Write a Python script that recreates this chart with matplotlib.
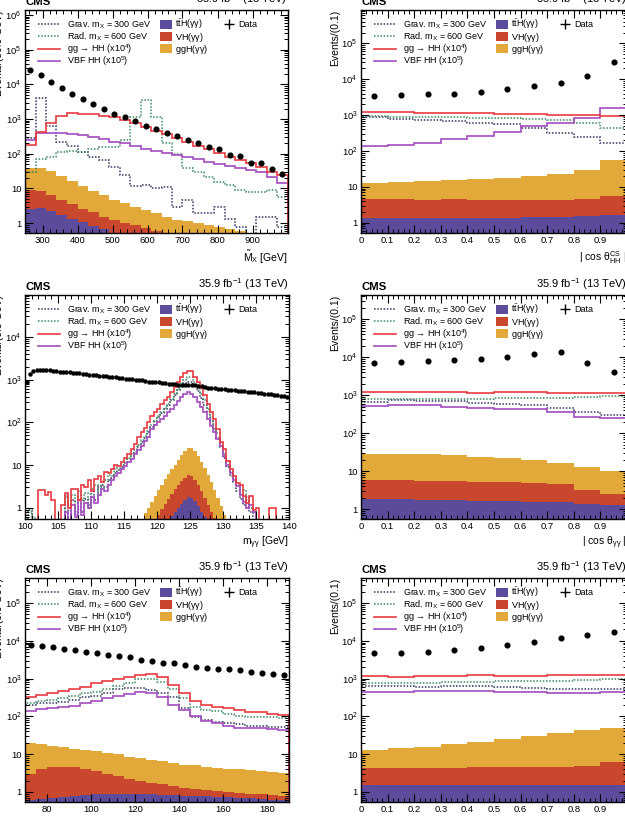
import numpy as np
import matplotlib
matplotlib.use("Agg")
import matplotlib.pyplot as plt
from matplotlib.patches import Rectangle
from matplotlib.ticker import LogLocator, NullFormatter, FuncFormatter, MultipleLocator

plt.rcParams['font.family'] = ['Liberation Sans', 'DejaVu Sans']
plt.rcParams['mathtext.fontset'] = 'custom'
plt.rcParams['mathtext.rm'] = 'Liberation Sans'
plt.rcParams['mathtext.it'] = 'Liberation Sans:italic'
plt.rcParams['mathtext.bf'] = 'Liberation Sans:bold'

# ---- M~X panel (30 GeV bins)
mx_edges = np.arange(250, 1001, 30)
mx_data = [25700, 18600, 11400, 7650, 5370, 3780, 2760, 1980, 1450, 1140, 860, 640, 505,
           386, 316, 243, 203, 158, 133, 93, 84, 54, 55, 36, 27]
mx_grav = [280, 4000, 630, 221, 166, 114, 81, 66, 42, 24, 11.7, 12.5, 10, 10.7, 2.9, 4.6,
           1.9, 1.9, 2.9, 1.36, 0.8, 0.3, 1.5, 1.5, 0.8]
mx_rad = [30, 70, 81, 110, 122, 115, 140, 155, 160, 250, 1150, 3600, 1150, 200, 100, 38,
          30, 22, 15.5, 12.5, 9, 8, 8, 9, 5.7]
mx_gg = [185, 420, 750, 1230, 1500, 1450, 1365, 1230, 1125, 935, 780, 600, 460, 369, 277,
         221, 166, 133, 102, 81, 66, 53, 42, 30, 24]
mx_vbf = [246, 400, 400, 390, 369, 350, 310, 260, 221, 200, 166, 142, 122, 107, 92, 81, 70,
          59, 50, 44, 38, 34, 30, 22, 14.5]
mx_tth = [2.6, 2.7, 2.2, 1.7, 1.3, 1.05, 0.84, 0.67, 0.52, 0.42, 0.34, 0.27, 0.22, 0.18,
          0.15, 0.12, 0.1, 0.08, 0.07, 0.06, 0.05, 0.04, 0.035, 0.03, 0.025]
mx_vh = [6.4, 6.0, 4.5, 3.1, 2.3, 1.55, 1.26, 0.83, 0.68, 0.58, 0.52, 0.45, 0.38, 0.32,
         0.27, 0.24, 0.2, 0.17, 0.14, 0.12, 0.1, 0.09, 0.075, 0.06, 0.055]
mx_ggh = [31, 29.3, 25.3, 18.2, 12.9, 9.4, 6.4, 5.1, 3.6, 2.8, 2.09, 1.65, 1.3, 1.02, 0.85,
          0.78, 0.7, 0.61, 0.55, 0.51, 0.46, 0.37, 0.34, 0.31, 0.27]

# ---- |cos theta CS| panel
cos_edges = np.linspace(0, 1, 11)
cs_data = [3450, 3700, 3850, 4000, 4470, 5200, 6300, 8100, 12200, 30000]
cs_grav = [860, 790, 725, 680, 590, 560, 425, 320, 250, 170]
cs_rad = [930, 900, 870, 860, 850, 820, 770, 740, 620, 450]
cs_gg = [1200, 1200, 1180, 1160, 1130, 1100, 1070, 1030, 1000, 950]
cs_vbf = [137, 152, 170, 210, 260, 343, 490, 610, 810, 1630]
cs_tth = [1.35, 1.35, 1.35, 1.37, 1.4, 1.4, 1.43, 1.45, 1.5, 1.6]
cs_vh = [3.4, 3.2, 3.1, 3.1, 3.0, 3.0, 3.0, 3.0, 3.1, 3.9]
cs_ggh = [8.25, 9.3, 10.3, 11.0, 12.1, 13.4, 15.9, 19.2, 24.7, 50.5]

# ---- m_gg panel (0.5 GeV bins)
mgg_edges = np.arange(100, 140.01, 0.5)
mgg_data = [900, 1350, 1600, 1700, 1720, 1700, 1680, 1640, 1600, 1570,
            1540, 1520, 1490, 1470, 1450, 1430, 1400, 1380, 1330, 1310,
            1290, 1270, 1240, 1220, 1190, 1170, 1140, 1120, 1100, 1080,
            1050, 1030, 1010, 1000, 980, 960, 930, 900, 900, 880,
            860, 850, 830, 810, 790, 770, 760, 750, 740, 750,
            740, 730, 700, 690, 670, 650, 640, 625, 610, 600,
            590, 580, 570, 560, 550, 540, 530, 520, 510, 500,
            490, 480, 460, 470, 450, 440, 430, 420, 410, 400]
mgg_gg = [0.3, 0.3, 0.3, 0.3, 2.6, 2.6, 2.0, 2.4, 1.5, 0.3,
          0.3, 1.2, 2.2, 1.0, 2.8, 2.8, 1.5, 3.5, 3.0, 4.5,
          2.5, 4.8, 5.5, 4.0, 7.0, 6.5, 8.0, 10, 9.5, 12,
          15, 18, 24, 32, 45, 58, 75, 100, 140, 174,
          209, 275, 326, 390, 515, 680, 890, 1170, 1390, 1620,
          1550, 1170, 890, 620, 430, 275, 174, 121, 70, 34,
          24, 12.6, 8, 5.6, 3.9, 3.5, 1.9, 1.3, 1.9, 0.9,
          1.0, 0.3, 0.3, 0.3, 1.0, 1.0, 0.3, 0.3, 0.3, 0.3]
mgg_rad = [0.3, 0.8, 0.6, 0.3, 0.3, 0.3, 0.3, 0.3, 0.3, 0.3,
           0.3, 0.3, 1.8, 1.0, 2.0, 0.8, 2.5, 1.5, 2.2, 1.2,
           2.8, 3.5, 2.0, 4.0, 4.5, 6.0, 5.5, 8.0, 8.5, 10,
           12, 15, 18, 23, 30, 38, 48, 62, 85, 110,
           140, 175, 215, 270, 350, 460, 600, 780, 980, 1170,
           1120, 900, 680, 470, 330, 210, 135, 90, 55, 35,
           18, 12, 7, 5, 3.5, 2.2, 2.6, 1.5, 1.0, 0.8,
           0.3, 0.3, 0.3, 0.3, 0.3, 0.3, 0.3, 0.3, 0.3, 0.3]
mgg_grav = [0.3, 0.9, 0.3, 0.3, 0.3, 0.3, 0.3, 0.3, 0.3, 0.3,
            0.3, 0.3, 2.0, 0.3, 1.5, 0.7, 1.5, 0.8, 1.6, 1.0,
            2.5, 1.5, 3.0, 3.5, 3.0, 4.5, 5.0, 6.5, 7.5, 9.0,
            11, 14, 16, 20, 26, 34, 44, 58, 80, 105,
            130, 165, 205, 255, 330, 430, 560, 700, 830, 900,
            860, 700, 530, 380, 260, 170, 110, 70, 42, 26,
            15, 9, 5.5, 4.0, 2.5, 1.6, 1.2, 1.8, 0.8, 0.3,
            0.3, 0.3, 0.3, 0.3, 0.3, 0.3, 0.3, 0.3, 0.3, 0.3]
mgg_vbf = [0.3, 0.3, 0.3, 0.3, 0.3, 0.3, 0.3, 0.3, 0.3, 0.3,
           0.3, 0.3, 0.8, 0.3, 1.2, 0.6, 1.5, 0.7, 1.3, 1.0,
           1.8, 1.3, 2.0, 2.8, 2.5, 3.5, 4.5, 5.5, 6.5, 8.0,
           9.5, 12, 14, 18, 22, 28, 36, 46, 70, 85,
           100, 120, 140, 170, 209, 260, 320, 400, 470, 515,
           470, 390, 300, 230, 174, 120, 84, 60, 41, 28,
           16.5, 10, 6.7, 4.5, 3.2, 2.0, 1.4, 1.0, 1.2, 0.8,
           0.3, 0.3, 0.3, 0.3, 0.3, 0.3, 0.3, 0.3, 0.3, 0.3]
mgg_tth = [0] * 33 + [0.02, 0.03, 0.05, 0.07, 0.1, 0.12, 0.15, 0.2, 0.3, 0.42, 0.55, 0.65,
                      0.8, 1.0, 1.25, 1.5, 1.8, 1.75, 1.45, 1.1, 0.8, 0.6, 0.42, 0.3, 0.2,
                      0.15, 0.1, 0.07, 0.04] + [0] * 18
mgg_vh = [0] * 33 + [0.05, 0.08, 0.12, 0.18, 0.25, 0.33, 0.4, 0.5, 0.65, 0.83, 1.05, 1.45,
                     1.9, 2.4, 2.95, 3.5, 4.0, 3.85, 3.15, 2.4, 1.7, 1.1, 0.73, 0.5, 0.37,
                     0.3, 0.2, 0.13, 0.08] + [0] * 18
mgg_ggh = [0] * 33 + [0.2, 0.3, 0.38, 0.5, 0.65, 0.95, 1.35, 1.9, 2.55, 3.45, 4.6, 5.9, 7.6,
                      10.1, 12.8, 16, 19.2, 19.4, 16.4, 12.5, 9.5, 6.8, 4.85, 3.2, 2.0,
                      1.25, 0.8, 0.5, 0.38, 0.25] + [0] * 17

# ---- |cos theta gg| panel
cgg_data = [7100, 7400, 7860, 8330, 8870, 9800, 11800, 13800, 6970, 4040]
cgg_grav = [670, 745, 710, 700, 610, 575, 540, 450, 365, 300]
cgg_rad = [780, 780, 775, 775, 790, 850, 850, 840, 910, 940]
cgg_gg = [1200, 1200, 1180, 1180, 1130, 1200, 1200, 1150, 1130, 1170]
cgg_vbf = [515, 550, 550, 495, 450, 425, 425, 365, 270, 245]
cgg_tth = [1.83, 1.83, 1.76, 1.76, 1.68, 1.63, 1.58, 1.52, 1.38, 1.3]
cgg_vh = [4.07, 4.07, 3.84, 3.74, 3.62, 3.47, 3.22, 2.98, 1.82, 1.3]
cgg_ggh = [22.5, 22.5, 22.3, 21.2, 18.7, 16.8, 14.9, 11.6, 10.0, 7.7]

# ---- M_jj panel (5 GeV bins)
mjj_edges = np.arange(70, 190.1, 5)
mjj_data = [7740, 7420, 6860, 6060, 5710, 4970, 4670, 4210, 3960, 3660, 3100, 2870, 2640,
            2540, 2290, 2070, 1910, 1760, 1760, 1690, 1500, 1380, 1350, 1245]
mjj_grav = [200, 222, 230, 245, 273, 320, 340, 420, 521, 550, 550, 500, 408, 320, 164, 95,
            80, 72, 68, 63, 56, 55, 53, 52]
mjj_rad = [230, 256, 273, 300, 340, 408, 450, 520, 640, 780, 955, 955, 820, 520, 300, 181,
           150, 135, 118, 105, 97, 95, 94, 90]
mjj_gg = [320, 368, 408, 470, 521, 611, 750, 881, 955, 1120, 1245, 1290, 1120, 680, 408, 256,
          200, 181, 164, 148, 133, 133, 116, 109]
mjj_vbf = [141, 155, 164, 181, 188, 222, 256, 300, 355, 390, 435, 408, 331, 200, 148, 102, 76,
           66, 56, 48, 50, 48, 45.5, 44]
mjj_tth = [0.6, 0.65, 0.7, 0.75, 0.8, 0.85, 0.88, 0.9, 0.9, 0.9, 0.88, 0.87, 0.85, 0.83, 0.8,
           0.78, 0.76, 0.75, 0.72, 0.7, 0.68, 0.65, 0.62, 0.6]
mjj_vh = [2.4, 3.35, 3.8, 3.95, 3.7, 3.25, 2.72, 2.1, 1.7, 1.3, 1.07, 0.88, 0.75, 0.62, 0.5,
          0.44, 0.36, 0.3, 0.26, 0.24, 0.22, 0.21, 0.21, 0.2]
mjj_ggh = [16.5, 14.6, 12.0, 10.8, 9.5, 8.9, 8.4, 7.6, 7.2, 6.4, 6.05, 5.25, 4.9, 4.3, 4.0,
           3.78, 3.58, 3.35, 3.12, 3.06, 2.9, 2.69, 2.47, 2.3]

# ---- |cos theta jj| panel
cjj_data = [4700, 4700, 5210, 5650, 6390, 7540, 9060, 11600, 14200, 17100]
cjj_grav = [630, 640, 600, 620, 640, 610, 550, 545, 515, 515]
cjj_rad = [745, 745, 780, 807, 807, 858, 858, 858, 890, 955]
cjj_gg = [1170, 1120, 1170, 1200, 1220, 1170, 1170, 1220, 1250, 1280]
cjj_vbf = [437, 437, 464, 464, 464, 450, 437, 403, 420, 437]
cjj_tth = [1.55, 1.55, 1.55, 1.55, 1.55, 1.55, 1.55, 1.55, 1.55, 1.5]
cjj_vh = [2.65, 2.65, 2.82, 2.82, 2.9, 2.9, 3.1, 3.1, 3.3, 4.8]
cjj_ggh = [8.7, 10.2, 11.5, 14.3, 17.1, 21.0, 25.9, 31.4, 39.2, 42.7]

# legend texts
line_labels = [r'Grav. m$_{\mathrm{X}}$ = 300 GeV', r'Rad. m$_{\mathrm{X}}$ = 600 GeV',
               r'gg → HH (x10$^{4}$)', r'VBF HH (x10$^{5}$)']
fill_labels = [r't$\bar{\mathrm{t}}$H($\mathrm{\gamma\gamma}$)', r'VH($\mathrm{\gamma\gamma}$)',
               r'ggH($\mathrm{\gamma\gamma}$)']

# colours
C_TTH = '#5b4b9a'
C_VH = '#c9482d'
C_GGH = '#e2a93a'
C_GG = '#e83b41'
C_VBF = '#a44bc0'
C_GRAV = '#2f3560'
C_RAD = '#3a8762'
DOT = (0, (1.0, 1.1))

W, H = 625, 819
fig = plt.figure(figsize=(W / 100, H / 100), dpi=100)


def log_label(v, pos):
    e = int(round(np.log10(v)))
    if e == 0:
        return '1'
    if e == 1:
        return '10'
    return r'$10^{%d}$' % e


def cos_label(v, pos):
    if abs(v) < 1e-9:
        return '0'
    if v > 0.95:
        return ''
    return '%.1f' % v


def mx_label(v, pos):
    if v > 950 or v < 280:
        return ''
    return '%d' % v


def draw_legend(ax, w, h):
    # ROOT-like legend, rows 12.4 px apart, three blocks side by side
    fs = 6.5
    tr = ax.transAxes
    styles = [(C_GRAV, DOT, 1.1), (C_RAD, DOT, 1.1), (C_GG, '-', 1.2), (C_VBF, '-', 1.2)]
    for i, (lab, (c, ls, lw)) in enumerate(zip(line_labels, styles)):
        yc = 1 - (14 + 12.4 * i) / h
        ax.plot([13 / w, 35 / w], [yc, yc], transform=tr, color=c, ls=ls, lw=lw, clip_on=False)
        ax.text(42 / w, yc - 3.2 / h, lab, transform=tr, fontsize=fs, va='baseline', ha='left')
    for i, (lab, c) in enumerate(zip(fill_labels, [C_TTH, C_VH, C_GGH])):
        yc = 1 - (14 + 12.4 * i) / h
        ax.add_patch(Rectangle((135 / w, yc - 4.5 / h), 12 / w, 9 / h, transform=tr,
                               facecolor=c, edgecolor='none', clip_on=False))
        ax.text(150 / w, yc - 3.2 / h, lab, transform=tr, fontsize=fs, va='baseline', ha='left')
    yc = 1 - 14 / h
    ax.plot([204 / w], [yc], transform=tr, marker='+', color='k', ms=7, mew=1.0, clip_on=False)
    ax.text(213 / w, yc - 3.2 / h, 'Data', transform=tr, fontsize=fs, va='baseline', ha='left')


def draw_panel(box, edges, data, grav, rad, gg, vbf, tth, vh, ggh,
               xlim, ylim, xlabel, ylabel, xmajor, xminor, msize=3.4, xfmt=None):
    x0, top, w, h = box
    ax = fig.add_axes([x0 / W, (H - top - h) / H, w / W, h / H])
    edges = np.asarray(edges, float)
    centers = 0.5 * (edges[1:] + edges[:-1])
    base = 1e-2

    # stacked single Higgs backgrounds
    c1 = np.maximum(np.asarray(tth, float), base)
    c2 = c1 + np.asarray(vh, float)
    c3 = c2 + np.asarray(ggh, float)
    ax.stairs(c1, edges, baseline=base, fill=True, color=C_TTH, lw=0)
    ax.stairs(c2, edges, baseline=c1, fill=True, color=C_VH, lw=0)
    ax.stairs(c3, edges, baseline=c2, fill=True, color=C_GGH, lw=0)

    # signals
    ax.stairs(grav, edges, baseline=base, color=C_GRAV, ls=DOT, lw=1.1)
    ax.stairs(rad, edges, baseline=base, color=C_RAD, ls=DOT, lw=1.1)
    ax.stairs(vbf, edges, baseline=base, color=C_VBF, lw=1.2)
    ax.stairs(gg, edges, baseline=base, color=C_GG, lw=1.2)

    ax.plot(centers, data, 'o', color='k', ms=msize, zorder=5)

    ax.set_yscale('log')
    ax.set_xlim(*xlim)
    ax.set_ylim(*ylim)
    ax.yaxis.set_major_locator(LogLocator(base=10, numticks=20))
    ax.yaxis.set_minor_locator(LogLocator(base=10, subs=np.arange(2, 10), numticks=20))
    ax.yaxis.set_minor_formatter(NullFormatter())
    ax.yaxis.set_major_formatter(FuncFormatter(log_label))
    ax.xaxis.set_major_locator(MultipleLocator(xmajor))
    ax.xaxis.set_minor_locator(MultipleLocator(xminor))
    if xfmt is not None:
        ax.xaxis.set_major_formatter(FuncFormatter(xfmt))

    ax.tick_params(which='both', direction='in', top=True, right=True, labelsize=6.8, pad=2.5)
    ax.tick_params(which='major', length=5.5, width=0.8)
    ax.tick_params(which='minor', length=2.8, width=0.7)
    for s in ax.spines.values():
        s.set_linewidth(1.0)

    ax.set_xlabel(xlabel, loc='right', fontsize=7.5)
    ax.xaxis.set_label_coords(1, -16 / h)
    ax.set_ylabel(ylabel, loc='top', fontsize=7.5)
    ax.yaxis.set_label_coords(-21 / w, 1)

    ax.text(0, 1 + 3 / h, 'CMS', transform=ax.transAxes, ha='left', va='bottom',
            fontsize=8.2, fontweight='bold')
    ax.text(1, 1 + 3 / h, r'35.9 fb$^{-1}$ (13 TeV)', transform=ax.transAxes,
            ha='right', va='bottom', fontsize=8)
    draw_legend(ax, w, h)
    return ax


draw_panel((25, 10, 262.5, 223), mx_edges, mx_data, mx_grav, mx_rad, mx_gg, mx_vbf,
           mx_tth, mx_vh, mx_ggh, (250, 1000), (0.52, 1.4e6),
           r'$\tilde{\mathrm{M}}_{\mathrm{X}}$ [GeV]', 'Events/(30.0 GeV)', 100, 20, xfmt=mx_label)
draw_panel((361, 10, 266, 223), cos_edges, cs_data, cs_grav, cs_rad, cs_gg, cs_vbf,
           cs_tth, cs_vh, cs_ggh, (0, 1), (0.52, 8.5e5),
           r'| cos $\mathrm{\theta^{CS}_{HH}}$ |', 'Events/(0.1)', 0.1, 0.02, xfmt=cos_label)
draw_panel((25, 295, 264, 224), mgg_edges, mgg_data, mgg_grav, mgg_rad, mgg_gg, mgg_vbf,
           mgg_tth, mgg_vh, mgg_ggh, (100, 140), (0.55, 9.5e4),
           r'm$_{\mathrm{\gamma\gamma}}$ [GeV]', 'Events/(0.5 GeV)', 5, 1, msize=2.2)
draw_panel((361, 295, 266, 224), cos_edges, cgg_data, cgg_grav, cgg_rad, cgg_gg, cgg_vbf,
           cgg_tth, cgg_vh, cgg_ggh, (0, 1), (0.556, 4.3e5),
           r'| cos $\mathrm{\theta_{\gamma\gamma}}$ |', 'Events/(0.1)', 0.1, 0.02, xfmt=cos_label)
draw_panel((25, 578, 264, 224), mjj_edges, mjj_data, mjj_grav, mjj_rad, mjj_gg, mjj_vbf,
           mjj_tth, mjj_vh, mjj_ggh, (70, 190), (0.54, 4.6e5),
           r'M$_{\mathrm{jj}}$ [GeV]', 'Events/(5.0 GeV)', 20, 4)
draw_panel((361, 578, 266, 224), cos_edges, cjj_data, cjj_grav, cjj_rad, cjj_gg, cjj_vbf,
           cjj_tth, cjj_vh, cjj_ggh, (0, 1), (0.54, 4.6e5),
           r'| cos $\mathrm{\theta_{jj}}$ |', 'Events/(0.1)', 0.1, 0.02, xfmt=cos_label)

fig.savefig('out.png', dpi=100)
